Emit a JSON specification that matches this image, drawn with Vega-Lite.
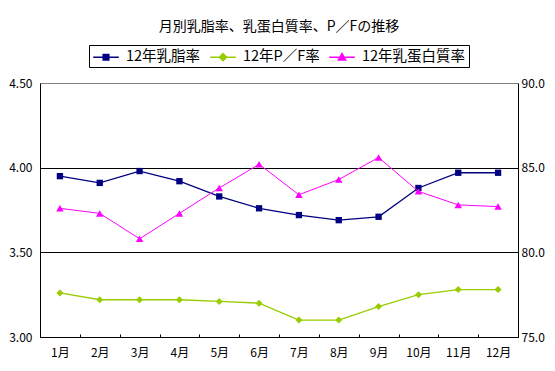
{
  "$schema": "https://vega.github.io/schema/vega-lite/v6.json",
  "width": 478,
  "height": 254,
  "autosize": {"type": "none"},
  "padding": {"left": 40, "top": 83, "right": 37, "bottom": 34},
  "background": "white",
  "config": {
    "font": "Noto Sans CJK JP",
    "view": {"stroke": "#808080", "strokeWidth": 1},
    "axis": {"labelFont": "Noto Sans CJK JP", "labelFontSize": 12, "labelColor": "black", "domainColor": "black", "domainWidth": 1, "tickColor": "black", "title": null}
  },
  "title": {"text": "月別乳脂率、乳蛋白質率、P／Fの推移", "fontSize": 14, "fontWeight": "normal", "color": "black", "offset": 11, "anchor": "middle", "font": "Noto Sans CJK JP"},
  "data": {"values": [
    {"month": "1月", "series": "12年乳脂率", "value": 3.95},
    {"month": "2月", "series": "12年乳脂率", "value": 3.91},
    {"month": "3月", "series": "12年乳脂率", "value": 3.98},
    {"month": "4月", "series": "12年乳脂率", "value": 3.92},
    {"month": "5月", "series": "12年乳脂率", "value": 3.83},
    {"month": "6月", "series": "12年乳脂率", "value": 3.76},
    {"month": "7月", "series": "12年乳脂率", "value": 3.72},
    {"month": "8月", "series": "12年乳脂率", "value": 3.69},
    {"month": "9月", "series": "12年乳脂率", "value": 3.71},
    {"month": "10月", "series": "12年乳脂率", "value": 3.88},
    {"month": "11月", "series": "12年乳脂率", "value": 3.97},
    {"month": "12月", "series": "12年乳脂率", "value": 3.97},
    {"month": "1月", "series": "12年P／F率", "value": 3.26},
    {"month": "2月", "series": "12年P／F率", "value": 3.22},
    {"month": "3月", "series": "12年P／F率", "value": 3.22},
    {"month": "4月", "series": "12年P／F率", "value": 3.22},
    {"month": "5月", "series": "12年P／F率", "value": 3.21},
    {"month": "6月", "series": "12年P／F率", "value": 3.20},
    {"month": "7月", "series": "12年P／F率", "value": 3.10},
    {"month": "8月", "series": "12年P／F率", "value": 3.10},
    {"month": "9月", "series": "12年P／F率", "value": 3.18},
    {"month": "10月", "series": "12年P／F率", "value": 3.25},
    {"month": "11月", "series": "12年P／F率", "value": 3.28},
    {"month": "12月", "series": "12年P／F率", "value": 3.28},
    {"month": "1月", "series": "12年乳蛋白質率", "value": 82.6},
    {"month": "2月", "series": "12年乳蛋白質率", "value": 82.3},
    {"month": "3月", "series": "12年乳蛋白質率", "value": 80.8},
    {"month": "4月", "series": "12年乳蛋白質率", "value": 82.3},
    {"month": "5月", "series": "12年乳蛋白質率", "value": 83.8},
    {"month": "6月", "series": "12年乳蛋白質率", "value": 85.2},
    {"month": "7月", "series": "12年乳蛋白質率", "value": 83.4},
    {"month": "8月", "series": "12年乳蛋白質率", "value": 84.3},
    {"month": "9月", "series": "12年乳蛋白質率", "value": 85.6},
    {"month": "10月", "series": "12年乳蛋白質率", "value": 83.6},
    {"month": "11月", "series": "12年乳蛋白質率", "value": 82.8},
    {"month": "12月", "series": "12年乳蛋白質率", "value": 82.7}
  ]},
  "encoding": {
    "x": {
      "field": "month", "type": "ordinal",
      "sort": ["1月","2月","3月","4月","5月","6月","7月","8月","9月","10月","11月","12月"],
      "scale": {"type": "band", "paddingInner": 0, "paddingOuter": 0},
      "axis": {"labelAngle": 0, "tickBand": "extent", "tickSize": -3, "labelPadding": 13, "domainColor": "black", "grid": false}
    },
    "color": {
      "field": "series", "type": "nominal",
      "scale": {"domain": ["12年乳脂率", "12年P／F率", "12年乳蛋白質率"], "range": ["#000080", "#99CC00", "#FF00FF"]},
      "legend": {
        "orient": "none", "legendX": 49, "legendY": -38, "direction": "horizontal", "title": null,
        "strokeColor": "black", "padding": 3, "fillColor": "white",
        "labelFont": "Noto Sans CJK JP", "labelFontSize": 14.5, "labelColor": "black", "labelLimit": 300,
        "symbolSize": 256, "symbolStrokeWidth": 1.5, "symbolOffset": 5, "labelOffset": 11, "columnPadding": 6,
        "encode": {"symbols": {"update": {
          "shape": {"signal": "datum.value === '12年乳脂率' ? 'M-1.6,0H1.6M-0.35,-0.35H0.35V0.35H-0.35Z' : datum.value === '12年P／F率' ? 'M-1.6,0H1.6M0,-0.45L0.45,0L0,0.45L-0.45,0Z' : 'M-1.6,0H1.6M0,-0.45L0.45,0.35H-0.45Z'"},
          "fill": {"signal": "scale('color', datum.value)"},
          "stroke": {"signal": "scale('color', datum.value)"},
          "strokeWidth": {"value": 1.5},
          "opacity": {"value": 1},
          "size": {"value": 256}
        }}}
      }
    }
  },
  "layer": [
    {
      "transform": [{"filter": "datum.series !== '12年乳蛋白質率'"}],
      "encoding": {
        "y": {
          "field": "value", "type": "quantitative",
          "scale": {"domain": [3, 4.5], "nice": false, "zero": false},
          "axis": {"orient": "left", "values": [3, 3.5, 4, 4.5], "format": ".2f", "ticks": false, "grid": true,
                   "gridColor": {"condition": {"test": "datum.value === 4.5", "value": "#808080"}, "value": "black"},
                   "gridOpacity": 1, "labelPadding": 8}
        }
      },
      "layer": [
        {"mark": {"type": "line", "strokeWidth": 1.3}},
        {"transform": [{"filter": "datum.series === '12年乳脂率'"}],
         "mark": {"type": "point", "shape": "square", "size": 40, "filled": true, "opacity": 1}},
        {"transform": [{"filter": "datum.series === '12年P／F率'"}],
         "mark": {"type": "point", "shape": "diamond", "size": 49, "filled": true, "opacity": 1}}
      ]
    },
    {
      "transform": [{"filter": "datum.series === '12年乳蛋白質率'"}],
      "encoding": {
        "y": {
          "field": "value", "type": "quantitative",
          "scale": {"domain": [75, 90], "nice": false, "zero": false},
          "axis": {"orient": "right", "values": [75, 80, 85, 90], "format": ".1f", "ticks": false, "grid": false, "labelPadding": 3}
        }
      },
      "layer": [
        {"mark": {"type": "line", "strokeWidth": 1}},
        {"mark": {"type": "point", "shape": "triangle-up", "size": 56, "filled": true, "opacity": 1}}
      ]
    }
  ],
  "resolve": {"scale": {"y": "independent"}}
}
